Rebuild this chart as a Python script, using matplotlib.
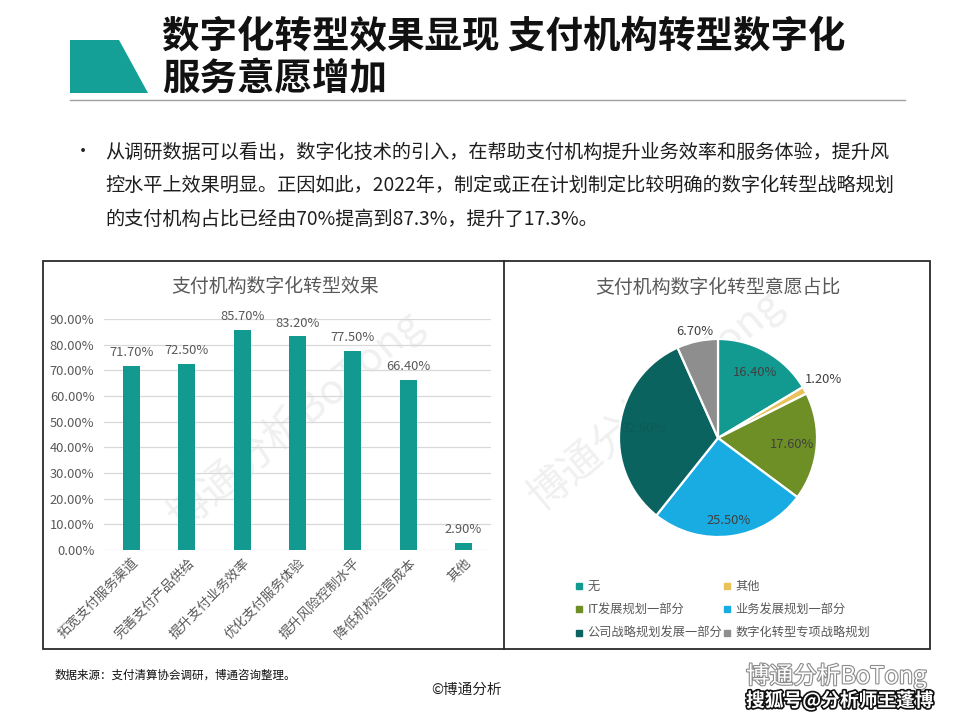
import matplotlib
matplotlib.use("Agg")
import matplotlib.pyplot as plt
from matplotlib.patches import Polygon, Rectangle
from matplotlib.lines import Line2D
import matplotlib.patheffects as pe
import numpy as np

plt.rcParams['font.family'] = ['Noto Sans CJK SC', 'DejaVu Sans']

# ---------------- data ----------------
title_lines = ["数字化转型效果显现 支付机构转型数字化", "服务意愿增加"]
bullet_lines = [
    "从调研数据可以看出，数字化技术的引入，在帮助支付机构提升业务效率和服务体验，提升风",
    "控水平上效果明显。正因如此，2022年，制定或正在计划制定比较明确的数字化转型战略规划",
    "的支付机构占比已经由70%提高到87.3%，提升了17.3%。",
]
bar_title = "支付机构数字化转型效果"
bar_categories = ["拓宽支付服务渠道", "完善支付产品供给", "提升支付业务效率", "优化支付服务体验",
                  "提升风险控制水平", "降低机构运营成本", "其他"]
bar_values = [71.7, 72.5, 85.7, 83.2, 77.5, 66.4, 2.9]
y_ticks = [0, 10, 20, 30, 40, 50, 60, 70, 80, 90]

pie_title = "支付机构数字化转型意愿占比"
pie_labels = ["无", "其他", "IT发展规划一部分", "业务发展规划一部分", "公司战略规划发展一部分", "数字化转型专项战略规划"]
pie_values = [16.4, 1.2, 17.6, 25.5, 32.6, 6.7]
pie_colors = ["#139A90", "#E9C25C", "#6E8F25", "#18ACE2", "#0B6360", "#8E8E8E"]

source_text = "数据来源：支付清算协会调研，博通咨询整理。"
copyright_text = "©博通分析"
wm_line1 = "博通分析BoTong"
wm_line2 = "搜狐号@分析师王蓬博"

# ---------------- figure ----------------
W, H = 960, 720
fig = plt.figure(figsize=(9.6, 7.2), dpi=100)
fig.patch.set_facecolor("white")

def fx(x):
    return x / W

def fy(y):
    return 1 - y / H

# header shape
fig.add_artist(Polygon([(fx(70), fy(40)), (fx(119), fy(40)), (fx(148), fy(93)), (fx(70), fy(93))],
                       closed=True, facecolor="#14A096", edgecolor="none", transform=fig.transFigure))
for i, line in enumerate(title_lines):
    fig.text(fx(162), fy(36 + i * 43), line, fontsize=27, fontweight="black", color="#111111",
             ha="left", va="center")
fig.add_artist(Line2D([fx(70), fx(905)], [fy(100), fy(100)], color="#A0A0A0", lw=1.0,
                      transform=fig.transFigure))

# bullet text
fig.text(fx(83), fy(152), "•", fontsize=13, color="#222222", ha="center", va="center")
for i, line in enumerate(bullet_lines):
    fig.text(fx(105), fy(152 + i * 33.5), line, fontsize=13.8, color="#1E1E1E",
             ha="left", va="center")

# panel frame
fig.add_artist(Rectangle((fx(43), fy(649)), fx(930) - fx(43), fy(261) - fy(649),
                         facecolor="none", edgecolor="#2A2A2A", lw=1.3, transform=fig.transFigure))
fig.add_artist(Line2D([fx(504), fx(504)], [fy(261), fy(649)], color="#2A2A2A", lw=1.3,
                      transform=fig.transFigure))

# in-chart faint watermarks (behind the charts)
fig.text(fx(295), fy(420), "博通分析BoTong", fontsize=30, color="#F0F0F0", rotation=40,
         ha="center", va="center", zorder=-5)
fig.text(fx(655), fy(400), "博通分析BoTong", fontsize=30, color="#F0F0F0", rotation=40,
         ha="center", va="center", zorder=-5)

# ---------------- bar chart ----------------
ax = fig.add_axes([fx(104), fy(550), fx(491) - fx(104), fy(319) - fy(550)])
ax.set_zorder(2)
ax.set_facecolor("none")
x = np.arange(len(bar_categories))
ax.bar(x, bar_values, width=0.31, color="#139A90", zorder=3)
ax.set_xlim(-0.5, len(bar_categories) - 0.5)
ax.set_ylim(0, 90)
ax.set_yticks(y_ticks)
ax.set_yticklabels([f"{v:.2f}%" for v in y_ticks], fontsize=9.3, color="#595959")
ax.yaxis.grid(True, color="#D9D9D9", lw=0.9, zorder=0)
ax.set_axisbelow(True)
for s in ax.spines.values():
    s.set_visible(False)
ax.tick_params(axis="both", length=0)
ax.tick_params(axis="y", pad=7)
ax.set_xticks(x)
ax.set_xticklabels(bar_categories, rotation=45, ha="right", va="top", rotation_mode="anchor",
                   fontsize=9.6, color="#595959")
ax.tick_params(axis="x", pad=4)
for xi, v in zip(x, bar_values):
    ax.annotate(f"{v:.2f}%", (xi, v), xytext=(0, 5), textcoords="offset points",
                ha="center", va="bottom", fontsize=9.3, color="#595959", clip_on=False)
fig.text(fx(275), fy(286), bar_title, fontsize=13.6, color="#595959", ha="center", va="center")

# ---------------- pie chart ----------------
cx, cy, r = 718, 438, 101
pax = fig.add_axes([fx(cx - r), fy(cy + r), fx(2 * r), fy(0) - fy(2 * r)])
pax.set_zorder(2)
pax.set_facecolor("none")
wedges, _ = pax.pie(pie_values, colors=pie_colors, startangle=90, counterclock=False,
                    radius=1.0, wedgeprops=dict(edgecolor="white", linewidth=1.6))
pax.set_xlim(-1.02, 1.02)
pax.set_ylim(-1.02, 1.02)
pax.set_aspect("equal")
pax.axis("off")

label_r = [0.76, 1.22, 0.75, 0.84, 0.76, 1.10]
label_col = ["#404040", "#404040", "#404040", "#404040", "#0C5A57", "#404040"]
total = sum(pie_values)
cum = 0.0
for v, lr, lc in zip(pie_values, label_r, label_col):
    mid = 90 - (cum + v / 2) / total * 360
    cum += v
    a = np.deg2rad(mid)
    pax.text(lr * np.cos(a), lr * np.sin(a), f"{v:.2f}%", ha="center", va="center",
             fontsize=9.3, color=lc, clip_on=False)
fig.text(fx(718), fy(287), pie_title, fontsize=13.6, color="#595959", ha="center", va="center")

# legend (row-major order as in the reference)
handles = [Line2D([], [], marker="s", linestyle="none", markersize=4.5, color=c) for c in pie_colors]
order = [0, 2, 4, 1, 3, 5]
leg = fig.legend([handles[i] for i in order], [pie_labels[i] for i in order], ncol=2,
                 loc="upper left", bbox_to_anchor=(fx(575), fy(580)), frameon=False,
                 fontsize=8.8, handlelength=0.7, handletextpad=0.35, columnspacing=0.0,
                 labelspacing=0.85, borderpad=0, borderaxespad=0)
for t in leg.get_texts():
    t.set_color("#595959")

# ---------------- footer ----------------
fig.text(fx(55), fy(675), source_text, fontsize=8.3, color="#111111", ha="left", va="center")
fig.text(fx(467), fy(690), copyright_text, fontsize=10.5, color="#222222", ha="center", va="center")
fig.text(fx(746), fy(676), wm_line1, fontsize=17, color="white", ha="left", va="center",
         path_effects=[pe.withStroke(linewidth=1.6, foreground="#8A8A8A")])
fig.text(fx(746), fy(701), wm_line2, fontsize=13.5, fontweight="black", color="white",
         ha="left", va="center", path_effects=[pe.withStroke(linewidth=2.4, foreground="#111111")])

fig.savefig("out.png", dpi=100, facecolor="white")
